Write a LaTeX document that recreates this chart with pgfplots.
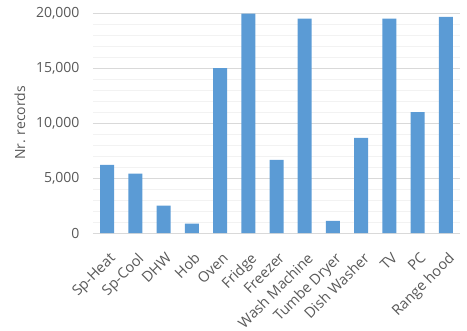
\documentclass[border=0pt]{standalone}
\usepackage{fontspec}
\setmainfont{Open Sans}
\usepackage{pgfplots}
\pgfplotsset{compat=1.18}
\definecolor{barblue}{HTML}{5B9BD5}
\definecolor{txtgray}{HTML}{595959}
\definecolor{majgrid}{HTML}{D9D9D9}
\definecolor{mingrid}{HTML}{F2F2F2}

\begin{document}
\begin{tikzpicture}
\begin{axis}[name=ax, scale only axis, width=367bp, height=220bp,
  ybar, bar width=14bp,
  xmin=-0.5, xmax=12.5, ymin=0, ymax=20000,
  xtick=data,
  xticklabels={Sp-Heat,Sp-Cool,DHW,Hob,Oven,Fridge,Freezer,Wash Machine,Tumbe Dryer,Dish Washer,TV,PC,Range hood},
  x tick label style={rotate=45, anchor=north east, font=\fontsize{14.5bp}{16bp}\selectfont, text=txtgray, inner sep=1bp, xshift=-8bp, yshift=-10bp},
  ytick={0,5000,10000,15000,20000},
  minor ytick={1000,2000,3000,4000,6000,7000,8000,9000,11000,12000,13000,14000,16000,17000,18000,19000},
  yticklabel style={font=\fontsize{14bp}{16bp}\selectfont, text=txtgray, xshift=-10bp},
  /pgf/number format/assume math mode=true,
  /pgf/number format/1000 sep={,},
  scaled y ticks=false,
  ylabel={Nr. records},
  ylabel style={font=\fontsize{14bp}{16bp}\selectfont, text=txtgray, at={(rel axis cs:0,0.5)}, anchor=center, yshift=73bp},
  ymajorgrids, yminorgrids,
  major grid style={majgrid, line width=0.75bp},
  minor grid style={mingrid, line width=0.75bp},
  axis lines*=left,
  y axis line style={draw=none},
  x axis line style={majgrid, line width=0.75bp, -},
  tick style={draw=none},
  clip=false,
]
\addplot[fill=barblue, draw=none] coordinates {
  (0,6200) (1,5400) (2,2500) (3,850) (4,15000) (5,19950) (6,6650)
  (7,19500) (8,1100) (9,8650) (10,19500) (11,11000) (12,19650)};
\end{axis}
\pgfresetboundingbox
\path[use as bounding box] ([shift={(-93bp,-98bp)}]ax.south west) rectangle ([shift={(7bp,13bp)}]ax.north east);
\end{tikzpicture}
\end{document}
